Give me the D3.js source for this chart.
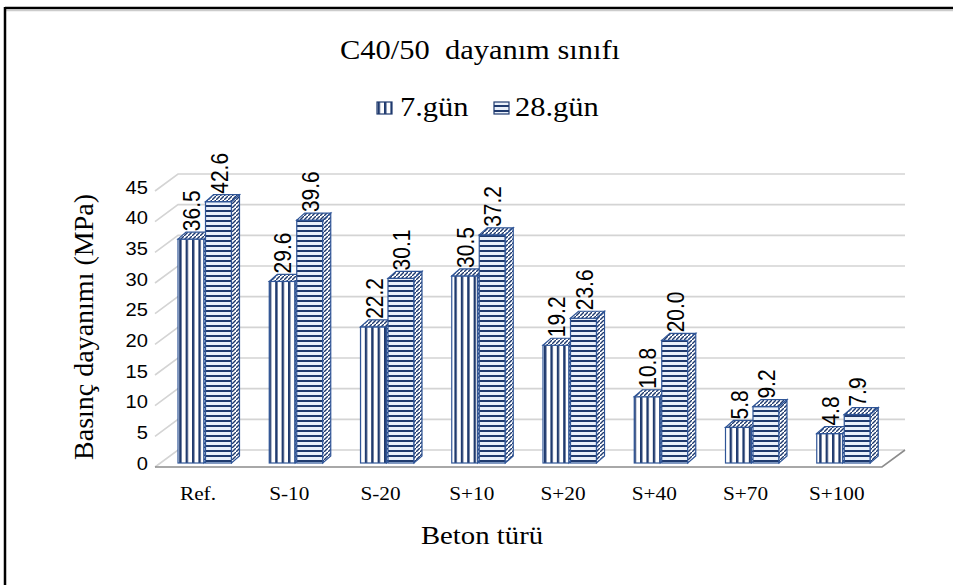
<!DOCTYPE html>
<html><head><meta charset="utf-8">
<script src="https://cdn.jsdelivr.net/npm/d3@7"></script>
<style>body{margin:0;background:#fff}svg{display:block}text{white-space:pre}</style>
</head><body><svg id="c" width="953" height="585"></svg>
<script>
const categories = ["Ref.","S-10","S-20","S+10","S+20","S+40","S+70","S+100"];
const day7 = [36.5,29.6,22.2,30.5,19.2,10.8,5.8,4.8];
const day28 = [42.6,39.6,30.1,37.2,23.6,20.0,9.2,7.9];
const seriesNames = ["7.gün","28.gün"];
const yTicks = [0,5,10,15,20,25,30,35,40,45];
const titleText = "C40/50  dayanım sınıfı";
const xTitle = "Beton türü";
const yTitle = "Basınç dayanımı (MPa)";

const SX = 1.15;
const svg = d3.select("#c");
const navy = "#1f3a6e", edge = "#2f5597";
const serif = "Liberation Serif, Times New Roman, serif";
const sans = "Liberation Sans, Arial, sans-serif";
const defs = svg.append("defs");
function pat(id,w,h,bg,draw){
  const p=defs.append("pattern").attr("id",id).attr("patternUnits","userSpaceOnUse").attr("width",w).attr("height",h);
  p.append("rect").attr("width",w).attr("height",h).attr("fill",bg);
  draw(p);
}
pat("pv",6.4,10,"#ffffff",p=>p.append("rect").attr("x",0).attr("width",2.4).attr("height",10).attr("fill",navy));
pat("ph",10,5,"#e9f0fa",p=>p.append("rect").attr("y",0).attr("width",10).attr("height",2).attr("fill",navy));
pat("pd",4,4,"#ffffff",p=>p.append("path").attr("d","M-1,5 L5,-1").attr("stroke",navy).attr("stroke-width",1.4));

// border
svg.append("line").attr("x1",5).attr("x2",953).attr("y1",8).attr("y2",8).attr("stroke","#000").attr("stroke-width",2.5);
svg.append("line").attr("x1",6).attr("x2",953).attr("y1",10.5).attr("y2",10.5).attr("stroke","#ccc").attr("stroke-width",1.5);
svg.append("line").attr("x1",5).attr("x2",5).attr("y1",7).attr("y2",585).attr("stroke","#000").attr("stroke-width",2.5);

const x = d3.scaleBand().domain(categories).range([155,885]).padding(0);
const y = d3.scaleLinear().domain([0,45]).range([467,191]);
const WX=23, WY=-17; // wall depth
const BX=8, BY=-7;   // bar depth
const BO=4;          // bar offset up from front floor edge
const BW=26, GAP=1.5, X0=23;

// gridlines
const g = svg.append("g");
yTicks.forEach(t=>{
  g.append("polyline").attr("points",[[155,y(t)],[155+WX,y(t)+WY],[905,y(t)+WY]].map(p=>p.join(",")).join(" "))
   .attr("fill","none").attr("stroke","#d4d4d4").attr("stroke-width",1.6);
});
g.append("polyline").attr("points",[[155,y(0)],[882,y(0)],[905,y(0)+WY]].map(p=>p.join(",")).join(" "))
 .attr("fill","none").attr("stroke","#8c8c8c").attr("stroke-width",1.6);

// y tick labels
svg.append("g").selectAll("text").data(yTicks).join("text")
  .attr("transform",d=>`translate(148,${y(d)-2}) scale(${SX},1)`)
  .attr("text-anchor","end").attr("dominant-baseline","middle")
  .attr("font-family",sans).attr("font-size",17.5).attr("fill","#000")
  .text(d=>d);

// bars
const bars = svg.append("g");
function drawBar(x0,v,fill){
  const yb = y(0)-BO, yt = y(v)-BO;
  bars.append("rect").attr("x",x0).attr("y",yt).attr("width",BW).attr("height",yb-yt)
    .attr("fill",`url(#${fill})`).attr("stroke",edge).attr("stroke-width",1.2);
  bars.append("path").attr("d",`M${x0},${yt}L${x0+BX},${yt+BY}L${x0+BW+BX},${yt+BY}L${x0+BW},${yt}Z`)
    .attr("fill","url(#pd)").attr("stroke",edge).attr("stroke-width",1.2);
  bars.append("path").attr("d",`M${x0+BW},${yt}L${x0+BW+BX},${yt+BY}L${x0+BW+BX},${yb+BY}L${x0+BW},${yb}Z`)
    .attr("fill","url(#pd)").attr("stroke",edge).attr("stroke-width",1.2);
}
function label(x0,v){
  const yt = y(v)-BO+BY-1;
  svg.append("text").attr("transform",`translate(${x0+22},${yt}) scale(${SX},1) rotate(-90)`)
    .attr("font-family",sans).attr("font-size",21).attr("fill","#000")
    .text(v.toFixed(1));
}
categories.forEach((c,i)=>{
  const b = x(c);
  drawBar(b+X0, day7[i], "pv");
  drawBar(b+X0+BW+GAP, day28[i], "ph");
});
categories.forEach((c,i)=>{
  const b = x(c);
  label(b+X0, day7[i]);
  label(b+X0+BW+GAP, day28[i]);
});

// category labels
svg.append("g").selectAll("text").data(categories).join("text")
  .attr("transform",d=>`translate(${x(d)+43},500) scale(${SX},1)`)
  .attr("text-anchor","middle").attr("font-family",serif)
  .attr("font-size",18.5).attr("fill","#000").text(d=>d);

// titles
function htext(cx,yy,size,t,anchor="middle"){
  return svg.append("text").attr("transform",`translate(${cx},${yy}) scale(${SX},1)`)
    .attr("text-anchor",anchor).attr("font-family",serif)
    .attr("font-size",size).attr("fill","#000").text(t);
}
htext(480,59,26.5,titleText);
htext(482,544,25,xTitle);
svg.append("text").attr("transform",`translate(93,327) rotate(-90)`)
  .attr("text-anchor","middle").attr("font-family",serif)
  .attr("font-size",28).attr("fill","#000").text(yTitle);

// legend
const lg = [[377,400],[494,515]];
seriesNames.forEach((s,i)=>{
  svg.append("rect").attr("x",lg[i][0]).attr("y",102).attr("width",15).attr("height",12)
    .attr("fill",i===0?"url(#pv)":"url(#ph)").attr("stroke",navy).attr("stroke-width",1.2);
  htext(lg[i][1],116,26.5,s,"start");
});
</script></body></html>
